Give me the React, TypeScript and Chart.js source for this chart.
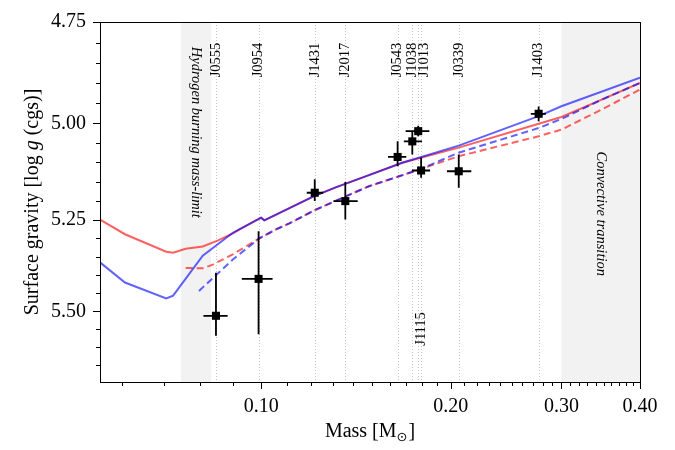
import { useEffect, useRef } from "react";
import { Chart, registerables } from "chart.js";

Chart.register(...registerables);

const FONT = '"Liberation Serif", "Times New Roman", serif';

// Benchmark stars: mass [M_sun] with bounds, surface gravity log g [cgs] with bounds
const starNames = ["J0555", "J0954", "J1431", "J2017", "J0543", "J1038", "J1013", "J1115", "J0339", "J1403"];
const starMass = [0.0847, 0.099, 0.1216, 0.136, 0.1647, 0.1738, 0.1776, 0.1795, 0.206, 0.276];
const starMassLo = [0.0809, 0.0931, 0.1181, 0.1302, 0.159, 0.1685, 0.1696, 0.1735, 0.1973, 0.2682];
const starMassHi = [0.0884, 0.1042, 0.1254, 0.1423, 0.17, 0.1801, 0.185, 0.1855, 0.2157, 0.2834];
const starLogg = [5.512, 5.41, 5.179, 5.201, 5.086, 5.046, 5.02, 5.121, 5.123, 4.976];
const starLoggLo = [5.393, 5.281, 5.144, 5.151, 5.046, 5.02, 5.006, 5.088, 5.08, 4.958];
const starLoggHi = [5.568, 5.564, 5.201, 5.25, 5.11, 5.08, 5.033, 5.14, 5.166, 4.995];
const lowerLabelStars = ["J1115"];

// Model tracks (red / blue, solid / dashed)
const redSolidMass = [0.0554, 0.0607, 0.0706, 0.0724, 0.0758, 0.0807, 0.0852, 0.0901, 0.0923, 0.0999, 0.1011, 0.1213, 0.1313, 0.1483, 0.1675, 0.206, 0.276, 0.3, 0.347, 0.4];
const redSolidLogg = [5.25, 5.289, 5.336, 5.339, 5.328, 5.322, 5.306, 5.287, 5.276, 5.245, 5.252, 5.188, 5.165, 5.133, 5.101, 5.062, 5.001, 4.984, 4.941, 4.899];
const blueSolidMass = [0.0554, 0.0607, 0.0706, 0.0724, 0.0807, 0.0901, 0.0923, 0.0999, 0.1011, 0.1213, 0.1313, 0.1483, 0.1675, 0.206, 0.276, 0.3, 0.4];
const blueSolidLogg = [5.365, 5.42, 5.464, 5.456, 5.347, 5.285, 5.276, 5.245, 5.252, 5.188, 5.165, 5.133, 5.101, 5.057, 4.982, 4.957, 4.886];
const redDashMass = [0.0758, 0.0807, 0.0837, 0.0901, 0.0993, 0.1055, 0.1108, 0.1216, 0.136, 0.1483, 0.178, 0.206, 0.276, 0.3, 0.347, 0.4];
const redDashLogg = [5.38, 5.381, 5.371, 5.343, 5.3, 5.276, 5.26, 5.225, 5.189, 5.162, 5.119, 5.084, 5.033, 5.016, 4.966, 4.915];
const blueDashMass = [0.0796, 0.0901, 0.0993, 0.1055, 0.1108, 0.1216, 0.136, 0.1483, 0.178, 0.206, 0.276, 0.3, 0.347, 0.4];
const blueDashLogg = [5.443, 5.357, 5.3, 5.276, 5.26, 5.225, 5.189, 5.162, 5.119, 5.075, 5.012, 4.989, 4.941, 4.899];

// Shaded mass ranges
const hydrogenLimitBand = [0.0745, 0.0832];
const convectiveBand = [0.3, 0.4];

// Axes
const massMin = 0.0554;
const massMax = 0.4;
const loggMin = 4.75;
const loggMax = 5.7;
const massTicks = [0.06, 0.07, 0.08, 0.09, 0.1, 0.11, 0.12, 0.13, 0.14, 0.15, 0.16, 0.17, 0.18, 0.19, 0.2, 0.21, 0.22, 0.23, 0.24, 0.25, 0.26, 0.27, 0.28, 0.29, 0.3, 0.31, 0.32, 0.33, 0.34, 0.35, 0.36, 0.37, 0.38, 0.39, 0.4];
const massTickLabels = [0.1, 0.2, 0.3, 0.4];
const loggTicks = [4.75, 4.8, 4.85, 4.9, 4.95, 5.0, 5.05, 5.1, 5.15, 5.2, 5.25, 5.3, 5.35, 5.4, 5.45, 5.5, 5.55, 5.6, 5.65];
const loggTickLabels = [4.75, 5.0, 5.25, 5.5];

const isIn = (list: number[], v: number) => list.some((m) => Math.abs(m - v) < 1e-9);
const pts = (xs: number[], ys: number[]) => xs.map((x, i) => ({ x, y: ys[i] }));

const RED = "rgba(255, 0, 0, 0.62)";
const BLUE = "rgba(0, 0, 255, 0.62)";

const decor = {
  id: "decor",
  beforeDatasetsDraw(chart: any) {
    const { ctx, chartArea: a, scales } = chart;
    const x = scales.x;
    const y = scales.y;
    ctx.save();
    ctx.beginPath();
    ctx.rect(a.left, a.top, a.right - a.left, a.bottom - a.top);
    ctx.clip();

    // shaded regions
    ctx.fillStyle = "#f2f2f2";
    for (const [lo, hi] of [hydrogenLimitBand, convectiveBand]) {
      const x0 = x.getPixelForValue(lo);
      const x1 = x.getPixelForValue(hi);
      ctx.fillRect(x0, a.top, x1 - x0, a.bottom - a.top);
    }

    // dotted guides at each star's mass
    ctx.strokeStyle = "#c4c4c4";
    ctx.lineWidth = 1;
    ctx.setLineDash([1, 2]);
    for (const m of starMass) {
      const px = Math.round(x.getPixelForValue(m)) + 0.5;
      ctx.beginPath();
      ctx.moveTo(px, a.top);
      ctx.lineTo(px, a.bottom);
      ctx.stroke();
    }
    ctx.setLineDash([]);

    // star names
    ctx.fillStyle = "#000";
    ctx.font = `14.5px ${FONT}`;
    ctx.textBaseline = "middle";
    ctx.textAlign = "right";
    starNames.forEach((name, i) => {
      const nudge = name === "J1013" ? 6 : 0;
      const px = x.getPixelForValue(starMass[i]) + nudge;
      const top = lowerLabelStars.includes(name) ? y.getPixelForValue(5.502) : y.getPixelForValue(4.8);
      ctx.save();
      ctx.translate(px, top);
      ctx.rotate(-Math.PI / 2);
      ctx.fillText(name, 0, 0);
      ctx.restore();
    });

    // region captions
    ctx.font = `italic 14.5px ${FONT}`;
    ctx.textAlign = "left";
    const caption = (band: number[], text: string, g: number) => {
      const cx = x.getPixelForValue(Math.sqrt(band[0] * band[1]));
      ctx.save();
      ctx.translate(cx, y.getPixelForValue(g));
      ctx.rotate(Math.PI / 2);
      ctx.fillText(text, 0, 0);
      ctx.restore();
    };
    caption(hydrogenLimitBand, "Hydrogen burning mass-limit", 4.81);
    caption(convectiveBand, "Convective transition", 5.072);
    ctx.restore();
  },
  beforeDatasetDraw(chart: any, args: any) {
    if (args.index !== 0) return;
    const { ctx, scales } = chart;
    const x = scales.x;
    const y = scales.y;
    ctx.save();
    ctx.strokeStyle = "#000";
    ctx.lineWidth = 1.8;
    starMass.forEach((m, i) => {
      const px = x.getPixelForValue(m);
      const py = y.getPixelForValue(starLogg[i]);
      ctx.beginPath();
      ctx.moveTo(x.getPixelForValue(starMassLo[i]), py);
      ctx.lineTo(x.getPixelForValue(starMassHi[i]), py);
      ctx.moveTo(px, y.getPixelForValue(starLoggLo[i]));
      ctx.lineTo(px, y.getPixelForValue(starLoggHi[i]));
      ctx.stroke();
    });
    ctx.restore();
  },
  afterDraw(chart: any) {
    const { ctx, chartArea: a, scales } = chart;
    const x = scales.x;
    const y = scales.y;
    ctx.save();
    ctx.strokeStyle = "#000";
    ctx.lineWidth = 1;
    ctx.strokeRect(a.left + 0.5, a.top + 0.5, a.right - a.left, a.bottom - a.top);

    ctx.beginPath();
    for (const t of x.ticks) {
      const px = Math.round(x.getPixelForValue(t.value)) + 0.5;
      const len = isIn(massTickLabels, t.value) ? 7 : 4;
      ctx.moveTo(px, a.bottom);
      ctx.lineTo(px, a.bottom + len);
    }
    for (const t of y.ticks) {
      const py = Math.round(y.getPixelForValue(t.value)) + 0.5;
      const len = isIn(loggTickLabels, t.value) ? 7 : 4;
      ctx.moveTo(a.left, py);
      ctx.lineTo(a.left - len, py);
    }
    ctx.stroke();

    // x title: Mass [M_sun]
    ctx.fillStyle = "#000";
    ctx.textBaseline = "alphabetic";
    ctx.textAlign = "left";
    const main = `20px ${FONT}`;
    const sub = `13px ${FONT}, "DejaVu Sans"`;
    ctx.font = main;
    const p1 = "Mass [M";
    const p3 = "]";
    const w1 = ctx.measureText(p1).width;
    const w3 = ctx.measureText(p3).width;
    ctx.font = sub;
    const w2 = ctx.measureText("\u2299").width;
    const cx = (a.left + a.right) / 2;
    const by = a.bottom + 55;
    let sx = cx - (w1 + w2 + w3 + 1) / 2;
    ctx.font = main;
    ctx.fillText(p1, sx, by);
    sx += w1;
    ctx.font = sub;
    ctx.fillText("\u2299", sx, by + 4);
    sx += w2 + 1;
    ctx.font = main;
    ctx.fillText(p3, sx, by);

    // y title: Surface gravity [log g (cgs)]
    const segs: [string, string][] = [
      ["Surface gravity [log ", main],
      ["g", `italic 20px ${FONT}`],
      [" (cgs)]", main],
    ];
    let total = 0;
    for (const [t, f] of segs) {
      ctx.font = f;
      total += ctx.measureText(t).width;
    }
    ctx.translate(a.left - 62, (a.top + a.bottom) / 2);
    ctx.rotate(-Math.PI / 2);
    let tx = -total / 2;
    for (const [t, f] of segs) {
      ctx.font = f;
      ctx.fillText(t, tx, 0);
      tx += ctx.measureText(t).width;
    }
    ctx.restore();
  },
};

export default function App() {
  const ref = useRef<HTMLCanvasElement>(null);

  useEffect(() => {
    if (!ref.current) return;
    const tickFont = { family: FONT, size: 20 };
    const chart = new Chart(ref.current, {
      type: "scatter",
      data: {
        datasets: [
          {
            label: "Stars",
            data: pts(starMass, starLogg),
            pointStyle: "rect",
            pointRadius: 5.7,
            backgroundColor: "#000",
            borderColor: "#000",
            borderWidth: 0,
            order: 0,
          },
          {
            label: "Blue dashed",
            type: "line",
            data: pts(blueDashMass, blueDashLogg),
            borderColor: BLUE,
            borderWidth: 2,
            borderDash: [7, 4],
            pointRadius: 0,
            fill: false,
            tension: 0,
            order: 1,
          },
          {
            label: "Red dashed",
            type: "line",
            data: pts(redDashMass, redDashLogg),
            borderColor: RED,
            borderWidth: 2,
            borderDash: [7, 4],
            pointRadius: 0,
            fill: false,
            tension: 0,
            order: 2,
          },
          {
            label: "Blue solid",
            type: "line",
            data: pts(blueSolidMass, blueSolidLogg),
            borderColor: BLUE,
            borderWidth: 2,
            pointRadius: 0,
            fill: false,
            tension: 0,
            order: 3,
          },
          {
            label: "Red solid",
            type: "line",
            data: pts(redSolidMass, redSolidLogg),
            borderColor: RED,
            borderWidth: 2,
            pointRadius: 0,
            fill: false,
            tension: 0,
            order: 4,
          },
        ] as any,
      },
      options: {
        responsive: false,
        animation: false,
        devicePixelRatio: 1,
        layout: { padding: { left: 0, top: 22, right: 35, bottom: 0 } },
        plugins: { legend: { display: false }, tooltip: { enabled: false } },
        scales: {
          x: {
            type: "logarithmic",
            min: massMin,
            max: massMax,
            bounds: "data",
            afterBuildTicks: (s: any) => {
              s.ticks = massTicks.map((v) => ({ value: v }));
            },
            afterFit: (s: any) => {
              s.height = 68;
            },
            grid: { display: false, drawTicks: true, tickLength: 7 },
            border: { display: false },
            ticks: {
              autoSkip: false,
              maxRotation: 0,
              minRotation: 0,
              padding: 6,
              color: "#000",
              font: tickFont,
              callback: (v: any) => (isIn(massTickLabels, Number(v)) ? Number(v).toFixed(2) : ""),
            },
          },
          y: {
            type: "logarithmic",
            reverse: true,
            min: loggMin,
            max: loggMax,
            bounds: "data",
            afterBuildTicks: (s: any) => {
              s.ticks = loggTicks.map((v) => ({ value: v }));
            },
            afterFit: (s: any) => {
              s.width = 100;
            },
            grid: { display: false, drawTicks: true, tickLength: 7 },
            border: { display: false },
            ticks: {
              autoSkip: false,
              padding: 7,
              color: "#000",
              font: tickFont,
              callback: (v: any) => (isIn(loggTickLabels, Number(v)) ? Number(v).toFixed(2) : ""),
            },
          },
        },
      } as any,
      plugins: [decor],
    });
    return () => chart.destroy();
  }, []);

  return (
    <div style={{ position: "fixed", left: 0, top: 0, width: 675, height: 450, background: "#fff" }}>
      <canvas ref={ref} width={675} height={450} style={{ width: 675, height: 450, display: "block" }} />
    </div>
  );
}
